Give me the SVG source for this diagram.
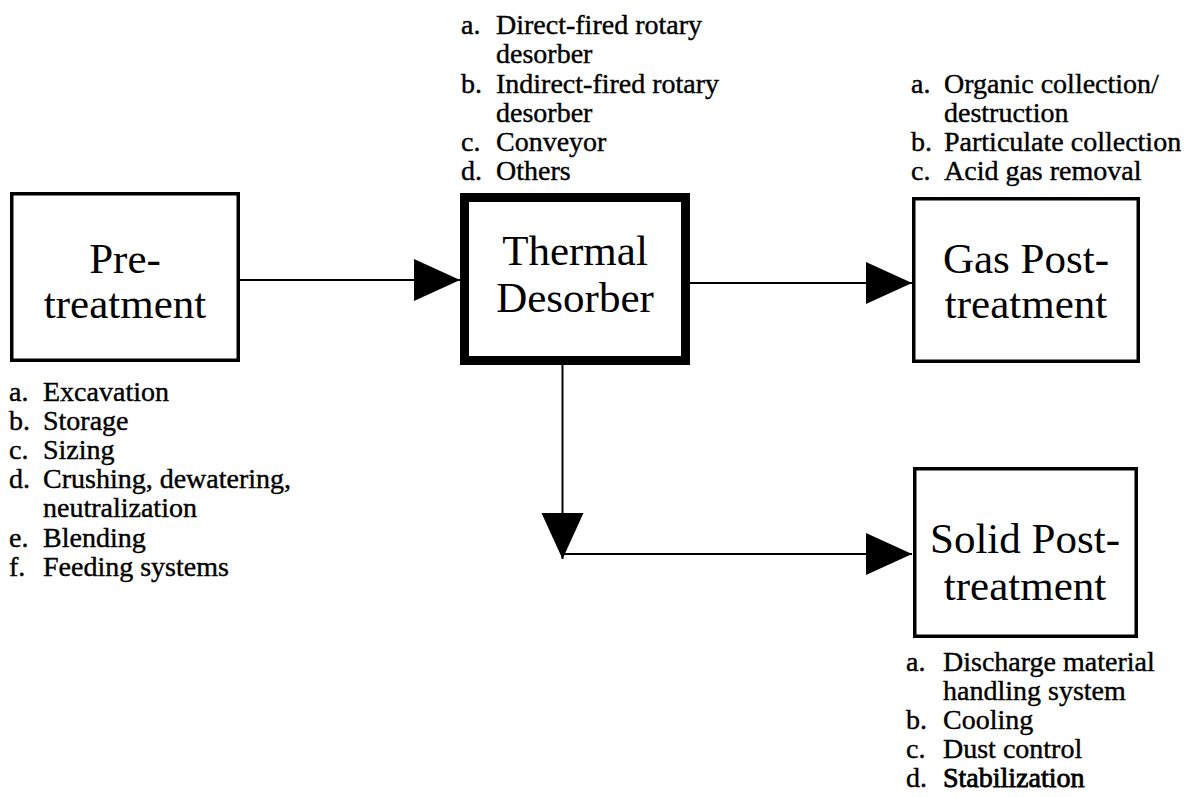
<svg xmlns="http://www.w3.org/2000/svg" width="1190" height="797" viewBox="0 0 1190 797">
<style>
.box{fill:#fff;stroke:#000;stroke-width:3.5}
.thick{stroke-width:9}
.big{font-family:"Liberation Serif","Times New Roman",serif;font-size:43px;fill:#000;text-anchor:middle}
.sm{font-family:"Liberation Serif","Times New Roman",serif;font-size:28px;fill:#000;stroke:#000;stroke-width:0.4}
.con{stroke:#000;stroke-width:2;fill:none}
</style>
<defs>
<marker id="ah" markerUnits="userSpaceOnUse" markerWidth="48" markerHeight="44" refX="46" refY="21" orient="auto" viewBox="0 0 48 44">
<path d="M0,0 L46,21 L0,42 z" fill="#000"/>
</marker>
</defs>
<rect width="1190" height="797" fill="#fff"/>
<g id="connectors">
<line class="con" x1="240" y1="280" x2="460" y2="280" marker-end="url(#ah)"/>
<line class="con" x1="690" y1="283" x2="912" y2="283" marker-end="url(#ah)"/>
<line class="con" x1="562.5" y1="365" x2="562.5" y2="559" marker-end="url(#ah)"/>
<line class="con" x1="562" y1="554" x2="912" y2="554" marker-end="url(#ah)"/>
</g>
<g id="pretreatment">
<rect class="box" x="11.75" y="193.75" width="226.5" height="166.5"/>
<text class="big" x="125" y="273">Pre-</text>
<text class="big" x="125" y="318">treatment</text>
</g>
<g id="pretreatment-list">
<text class="sm" x="9" y="401">a.</text><text class="sm" x="43" y="401">Excavation</text>
<text class="sm" x="9" y="430">b.</text><text class="sm" x="43" y="430">Storage</text>
<text class="sm" x="9" y="459">c.</text><text class="sm" x="43" y="459">Sizing</text>
<text class="sm" x="9" y="488">d.</text><text class="sm" x="43" y="488">Crushing, dewatering,</text>
<text class="sm" x="43" y="517">neutralization</text>
<text class="sm" x="9" y="547">e.</text><text class="sm" x="43" y="547">Blending</text>
<text class="sm" x="9" y="576">f.</text><text class="sm" x="43" y="576">Feeding systems</text>
</g>
<g id="thermal-desorber">
<rect class="box thick" x="464.5" y="197.5" width="221" height="163"/>
<text class="big" x="575" y="265">Thermal</text>
<text class="big" x="575" y="312">Desorber</text>
</g>
<g id="thermal-list">
<text class="sm" x="461" y="34">a.</text><text class="sm" x="496" y="34">Direct-fired rotary</text>
<text class="sm" x="496" y="63">desorber</text>
<text class="sm" x="461" y="93">b.</text><text class="sm" x="496" y="93">Indirect-fired rotary</text>
<text class="sm" x="496" y="122">desorber</text>
<text class="sm" x="461" y="151">c.</text><text class="sm" x="496" y="151">Conveyor</text>
<text class="sm" x="461" y="180">d.</text><text class="sm" x="496" y="180">Others</text>
</g>
<g id="gas-posttreatment">
<rect class="box" x="913.75" y="198.75" width="224.5" height="162.5"/>
<text class="big" x="1026" y="273">Gas Post-</text>
<text class="big" x="1026" y="318">treatment</text>
</g>
<g id="gas-list">
<text class="sm" x="911" y="93">a.</text><text class="sm" x="944" y="93">Organic collection/</text>
<text class="sm" x="944" y="122">destruction</text>
<text class="sm" x="911" y="151">b.</text><text class="sm" x="944" y="151">Particulate collection</text>
<text class="sm" x="911" y="180">c.</text><text class="sm" x="944" y="180">Acid gas removal</text>
</g>
<g id="solid-posttreatment">
<rect class="box" x="914.75" y="468.75" width="221.5" height="167.5"/>
<text class="big" x="1025" y="553">Solid Post-</text>
<text class="big" x="1025" y="600">treatment</text>
</g>
<g id="solid-list">
<text class="sm" x="906" y="671">a.</text><text class="sm" x="943" y="671">Discharge material</text>
<text class="sm" x="943" y="700">handling system</text>
<text class="sm" x="906" y="729">b.</text><text class="sm" x="943" y="729">Cooling</text>
<text class="sm" x="906" y="758">c.</text><text class="sm" x="943" y="758">Dust control</text>
<text class="sm" x="906" y="787">d.</text><text class="sm" x="943" y="787" style="stroke-width:0.8">Stabilization</text>
</g>
</svg>
